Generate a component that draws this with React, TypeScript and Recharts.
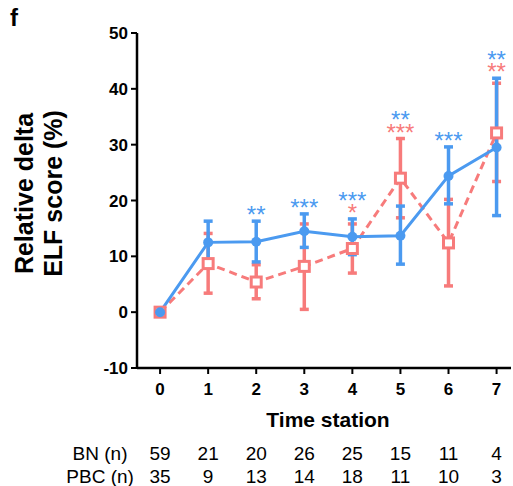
import React from 'react';
import { LineChart, Line, XAxis, YAxis, ErrorBar, LabelList, Label } from 'recharts';

const stations = [0, 1, 2, 3, 4, 5, 6, 7];
const bnMean = [0, 12.5, 12.6, 14.5, 13.5, 13.7, 24.4, 29.5];
const bnUpper = [0, 16.3, 16.3, 17.6, 16.7, 19.0, 29.6, 41.9];
const bnLower = [0, 9.0, 9.0, 11.6, 10.3, 8.6, 19.4, 17.3];
const pbcMean = [0, 8.7, 5.4, 8.2, 11.4, 24.0, 12.4, 32.1];
const pbcUpper = [0, 14.1, 8.5, 15.8, 15.8, 31.1, 20.2, 41.0];
const pbcLower = [0, 3.4, 2.4, 0.5, 7.0, 16.9, 4.7, 23.4];
const bnStars = ['', '', '**', '***', '***', '**', '***', '**'];
const pbcStars = ['', '', '', '', '*', '***', '', '**'];
const bnCounts = [59, 21, 20, 26, 25, 15, 11, 4];
const pbcCounts = [35, 9, 13, 14, 18, 11, 10, 3];
const yTicks = [-10, 0, 10, 20, 30, 40, 50];

const BLUE = '#4B9AF0';
const PINK = '#F77B7B';
const FONT = '"Liberation Sans", Arial, sans-serif';

const data = stations.map((s, i) => ({
  station: s,
  bn: bnMean[i],
  pbc: pbcMean[i],
  bnErr: bnUpper[i] === bnLower[i] ? null : [bnMean[i] - bnLower[i], bnUpper[i] - bnMean[i]],
  pbcErr: pbcUpper[i] === pbcLower[i] ? null : [pbcMean[i] - pbcLower[i], pbcUpper[i] - pbcMean[i]],
  starBase: Math.max(bnUpper[i], pbcUpper[i]),
}));

const SquareDot = (props: any) => {
  const { cx, cy } = props;
  if (cx == null || cy == null) return null;
  return <rect x={cx - 5} y={cy - 5} width={10} height={10} fill="#fff" stroke={PINK} strokeWidth={3} />;
};

const CircleDot = (props: any) => {
  const { cx, cy } = props;
  if (cx == null || cy == null) return null;
  return <circle cx={cx} cy={cy} r={5} fill={BLUE} stroke="none" />;
};

const StarLabel = (props: any) => {
  const { x, y, index } = props;
  if (x == null || y == null) return null;
  const pink = pbcStars[index];
  const blue = bnStars[index];
  if (!pink && !blue) return null;
  const shift = 11.5;
  const pinkY = y - 9.5 + shift;
  const blueY = (pink ? y - 9.5 - 12.3 : y - 9.5) + shift;
  return (
    <text textAnchor="middle" fontSize={24} fontFamily={FONT}>
      {blue ? (
        <tspan x={x} y={blueY} fill={BLUE}>{blue}</tspan>
      ) : null}
      {pink ? (
        <tspan x={x} y={pinkY} fill={PINK}>{pink}</tspan>
      ) : null}
    </text>
  );
};

const XTick = (props: any) => {
  const { x, y, payload } = props;
  const i = stations.indexOf(payload.value);
  return (
    <g>
      <text x={x} y={y + 19} textAnchor="middle" fontSize={17} fontWeight="bold" fontFamily={FONT} fill="#000">
        {payload.value}
      </text>
      <text x={x} y={y + 84} textAnchor="middle" fontSize={19} fontFamily={FONT} fill="#000">
        {bnCounts[i]}
      </text>
      <text x={x} y={y + 107} textAnchor="middle" fontSize={19} fontFamily={FONT} fill="#000">
        {pbcCounts[i]}
      </text>
      {i === 0 && (
        <g>
          <text x={x - 60} y={y + 84} textAnchor="middle" fontSize={19} fontFamily={FONT} fill="#000">BN (n)</text>
          <text x={x - 60} y={y + 107} textAnchor="middle" fontSize={19} fontFamily={FONT} fill="#000">PBC (n)</text>
        </g>
      )}
    </g>
  );
};

const YTitle = (props: any) => {
  const vb = props.viewBox || { x: 77, y: 33, width: 60, height: 335 };
  const cy = vb.y + vb.height / 2 - 7;
  const x1 = vb.x - 44;
  const x2 = vb.x - 15;
  return (
    <g>
      <text x={10} y={26} fontSize={24} fontWeight="bold" fontFamily={FONT} fill="#000">f</text>
      <text transform={`translate(${x1},${cy}) rotate(-90)`} textAnchor="middle" fontSize={25} fontWeight="bold" fontFamily={FONT} fill="#000">
        Relative delta
      </text>
      <text transform={`translate(${x2},${cy}) rotate(-90)`} textAnchor="middle" fontSize={25} fontWeight="bold" fontFamily={FONT} fill="#000">
        ELF score (%)
      </text>
    </g>
  );
};

const XTitle = (props: any) => {
  const vb = props.viewBox || { x: 137, y: 368, width: 374, height: 30 };
  return (
    <text x={vb.x + vb.width / 2 + 4} y={vb.y + 59} textAnchor="middle" fontSize={21} fontWeight="bold" fontFamily={FONT} fill="#000">
      Time station
    </text>
  );
};

export default function App() {
  return (
    <div style={{ position: 'absolute', left: 0, top: 0, width: 513, height: 486, background: '#fff' }}>
      <LineChart width={513} height={486} data={data} margin={{ top: 33, right: 2, bottom: 88, left: 77 }}>
        <XAxis
          dataKey="station"
          type="number"
          domain={[-0.48, 7.3]}
          ticks={stations}
          allowDataOverflow
          height={30}
          tickSize={6}
          tickMargin={2}
          tick={<XTick />}
          axisLine={{ stroke: '#000', strokeWidth: 2.5 }}
          tickLine={{ stroke: '#000', strokeWidth: 2 }}
          interval={0}
        >
          <Label content={<XTitle />} />
        </XAxis>
        <YAxis
          type="number"
          domain={[-10, 50]}
          ticks={yTicks}
          width={60}
          tickSize={6}
          tickMargin={3}
          interval={0}
          tick={{ fontSize: 17, fontWeight: 'bold', fill: '#000', fontFamily: FONT }}
          axisLine={{ stroke: '#000', strokeWidth: 2.5 }}
          tickLine={{ stroke: '#000', strokeWidth: 2 }}
        >
          <Label content={<YTitle />} />
        </YAxis>
        <Line
          dataKey="pbc"
          stroke={PINK}
          strokeWidth={3}
          strokeDasharray="8 5"
          dot={<SquareDot />}
          activeDot={false}
          isAnimationActive={false}
        >
          <ErrorBar dataKey="pbcErr" direction="y" width={4.5} strokeWidth={3.5} stroke={PINK} />
        </Line>
        <Line
          dataKey="bn"
          stroke={BLUE}
          strokeWidth={3}
          dot={<CircleDot />}
          activeDot={false}
          isAnimationActive={false}
        >
          <ErrorBar dataKey="bnErr" direction="y" width={4.5} strokeWidth={3.5} stroke={BLUE} />
        </Line>
        <Line
          dataKey="starBase"
          stroke="none"
          dot={false}
          activeDot={false}
          isAnimationActive={false}
        >
          <LabelList dataKey="starBase" content={<StarLabel />} />
        </Line>
      </LineChart>
    </div>
  );
}
